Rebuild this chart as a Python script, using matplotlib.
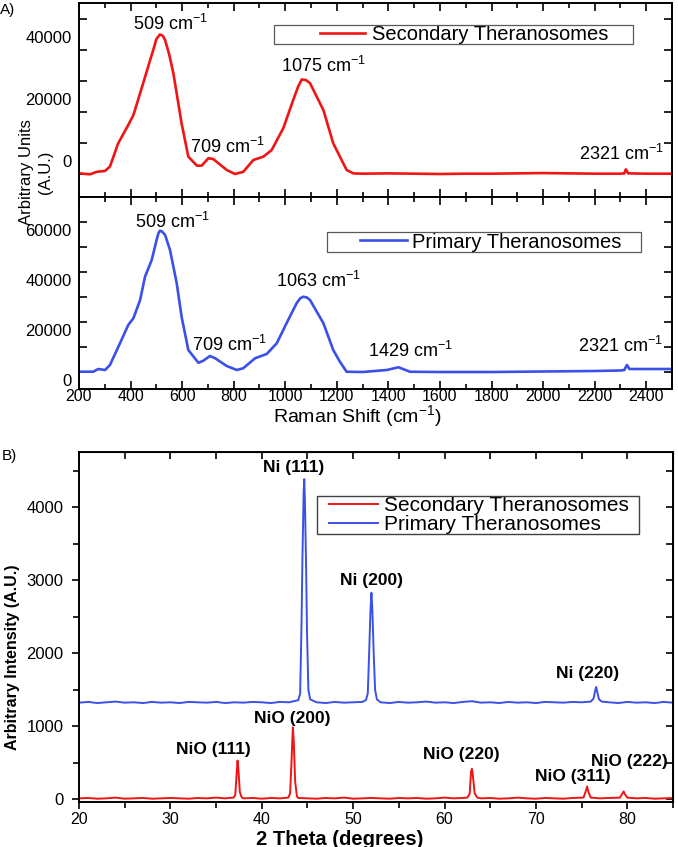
import matplotlib
matplotlib.use('Agg')
import matplotlib.pyplot as plt
import matplotlib.transforms as mtransforms
from matplotlib.ticker import MultipleLocator, FixedLocator
from matplotlib.patches import Rectangle

plt.rcParams['font.family'] = ['Liberation Sans', 'DejaVu Sans']
plt.rcParams['mathtext.fontset'] = 'custom'
plt.rcParams['mathtext.rm'] = 'Liberation Sans'
plt.rcParams['mathtext.default'] = 'regular'

# ---------------- DATA ----------------
# Raman, secondary theranosomes (top)
raman_sec_x = [200, 243, 269, 301, 320, 352, 391, 411, 449, 475, 488, 500, 514, 525, 534,
               550, 566, 598, 624, 657, 676, 702, 721, 773, 805, 837, 876, 915, 947, 992,
               1031, 1050, 1064, 1080, 1096, 1148, 1186, 1212, 1238, 1264, 1300, 1400,
               1500, 1600, 1700, 1800, 1900, 2000, 2100, 2200, 2300, 2315, 2321, 2330,
               2400, 2500]
raman_sec_y = [200, -100, 700, 1000, 2400, 9900, 15800, 19000, 29300, 36500, 40000, 43500,
               45000, 44600, 43200, 38500, 32500, 16300, 5600, 2700, 2700, 5100, 4800, 1300,
               0, 700, 4500, 5600, 7700, 14700, 23900, 28200, 30500, 30300, 29300, 20600,
               9900, 5600, 1300, 200, 100, 200, 100, 0, 100, 100, 200, 300, 200, 100, 100,
               200, 1500, 200, 100, 100]
# Raman, primary theranosomes (bottom)
raman_pri_x = [200, 255, 275, 301, 320, 359, 391, 411, 437, 456, 482, 501, 508, 514, 522,
               534, 553, 579, 598, 624, 663, 682, 708, 728, 773, 812, 837, 883, 928, 967,
               1005, 1044, 1058, 1070, 1084, 1096, 1148, 1186, 1212, 1238, 1300, 1394,
               1439, 1484, 1600, 1800, 2000, 2200, 2300, 2315, 2325, 2335, 2400, 2500]
raman_pri_y = [120, 120, 1200, 800, 2800, 11500, 18800, 21500, 28800, 38100, 44800, 52800,
               55500, 56500, 56200, 54800, 48800, 35500, 22100, 8800, 3700, 4500, 6400,
               5500, 2400, 800, 1500, 5500, 7200, 11500, 19500, 27500, 29500, 30100, 29800,
               28800, 19500, 8800, 4100, 100, 0, 800, 1900, 100, 0, 0, 200, 400, 600, 800,
               2800, 1200, 1200, 1200]

raman_sec_labels = ["509 cm$^{-1}$", "709 cm$^{-1}$", "1075 cm$^{-1}$", "2321 cm$^{-1}$"]
raman_sec_lab_x = [553, 774, 1150, 2306]
raman_sec_lab_y = [48400, 8710, 34840, 6450]
raman_pri_labels = ["509 cm$^{-1}$", "709 cm$^{-1}$", "1063 cm$^{-1}$", "1429 cm$^{-1}$", "2321 cm$^{-1}$"]
raman_pri_lab_x = [561, 782, 1127, 1484, 2302]
raman_pri_lab_y = [60000, 10800, 36400, 8400, 10400]

raman_sec_yticks = [0, 20000, 40000]
raman_pri_yticks = [0, 20000, 40000, 60000]

# XRD, primary theranosomes (blue)
xrd_pri_theta = ([20, 21, 22, 23, 24, 25, 26, 27, 28, 29, 30, 31, 32, 33, 34, 35, 36, 37, 38,
                  39, 40, 41, 42, 43]
                 + [44.0, 44.2, 44.35, 44.45, 44.58, 44.65, 44.72, 44.85, 44.95, 45.1, 45.3]
                 + [46, 47, 48, 49, 50, 51]
                 + [51.4, 51.6, 51.75, 51.9, 52.0, 52.1, 52.25, 52.4, 52.6]
                 + [53, 54, 55, 56, 57, 58, 59, 60, 61, 62, 63, 64, 65, 66, 67, 68, 69, 70,
                    71, 72, 73, 74, 75]
                 + [76.0, 76.3, 76.5, 76.6, 76.75, 76.9, 77.2]
                 + [78, 79, 80, 81, 82, 83, 84, 85])
xrd_pri_int = ([1325, 1335, 1320, 1330, 1340, 1325, 1330, 1320, 1335, 1325, 1330, 1320, 1335,
                1330, 1325, 1335, 1320, 1330, 1325, 1335, 1330, 1320, 1335, 1330]
               + [1360, 1450, 2400, 3300, 4200, 4385, 4100, 3200, 2300, 1500, 1370]
               + [1330, 1320, 1335, 1325, 1330, 1335]
               + [1360, 1450, 2000, 2600, 2830, 2600, 2000, 1500, 1370]
               + [1330, 1320, 1335, 1325, 1330, 1340, 1325, 1330, 1320, 1335, 1345, 1325,
                  1330, 1320, 1335, 1325, 1330, 1320, 1335, 1330, 1325, 1335, 1330]
               + [1340, 1380, 1500, 1540, 1450, 1370, 1340]
               + [1330, 1320, 1335, 1325, 1330, 1320, 1335, 1325])
# XRD, secondary theranosomes (red)
xrd_sec_theta = ([20, 21, 22, 23, 24, 25, 26, 27, 28, 29, 30, 31, 32, 33, 34, 35, 36]
                 + [36.9, 37.1, 37.25, 37.35, 37.45, 37.6, 37.8]
                 + [38, 39, 40, 41, 42]
                 + [42.9, 43.1, 43.25, 43.4, 43.5, 43.65, 43.85]
                 + [44, 45, 46, 47, 48, 49, 50, 51, 52, 53, 54, 55, 56, 57, 58, 59, 60, 61, 62]
                 + [62.5, 62.75, 62.9, 63.0, 63.1, 63.3, 63.6]
                 + [64, 65, 66, 67, 68, 69, 70, 71, 72, 73, 74]
                 + [75.2, 75.45, 75.6, 75.75, 76.0]
                 + [77, 78]
                 + [79.2, 79.45, 79.6, 79.75, 80.0]
                 + [81, 82, 83, 84, 85])
xrd_sec_int = ([15, 20, 10, 15, 25, 10, 15, 20, 10, 15, 20, 15, 10, 20, 15, 25, 15]
               + [25, 60, 350, 532, 400, 100, 30]
               + [15, 20, 10, 20, 15]
               + [25, 80, 500, 988, 800, 250, 40]
               + [20, 15, 10, 20, 15, 25, 10, 15, 20, 15, 10, 20, 15, 20, 10, 15, 25, 15, 20]
               + [25, 80, 380, 419, 330, 80, 25]
               + [15, 20, 10, 15, 25, 15, 10, 20, 15, 10, 20]
               + [25, 110, 178, 100, 25]
               + [15, 20]
               + [25, 80, 110, 70, 25]
               + [15, 20, 10, 15, 20])

xrd_labels = ["Ni (111)", "Ni (200)", "Ni (220)", "NiO (200)", "NiO (111)", "NiO (220)",
              "NiO (311)", "NiO (222)"]
xrd_lab_x = [43.53, 52.06, 75.70, 43.31, 34.66, 61.80, 74.06, 80.19]
xrd_lab_y = [4539, 2997, 1729, 1115, 678, 610, 310, 515]

series_names = ["Secondary Theranosomes", "Primary Theranosomes"]
RED = '#f01414'
BLUE = '#3a50e6'

# ---------------- FIGURE ----------------
W, H = 678, 847
fig = plt.figure(figsize=(W / 100, H / 100), dpi=100)


def ax_px(l, t, r, b):
    return fig.add_axes([l / W, 1 - b / H, (r - l) / W, (b - t) / H])


axA1 = ax_px(79, 3, 672, 197)
axA2 = ax_px(79, 197, 672, 389)
axB = ax_px(79, 452, 673, 802)

for ax in (axA1, axA2, axB):
    for s in ax.spines.values():
        s.set_linewidth(1.4)

# ---- Raman panels ----
lA1, = axA1.plot(raman_sec_x, raman_sec_y, color=RED, lw=1.9)
lA2, = axA2.plot(raman_pri_x, raman_pri_y, color=BLUE, lw=1.9)
axA1.set_ylim(-7420, 55160)
axA2.set_ylim(-6800, 70000)

for ax, ticks, dy in ((axA1, raman_sec_yticks, 0.11), (axA2, raman_pri_yticks, -0.10)):
    ax.set_xlim(200, 2500)
    ax.xaxis.set_major_locator(MultipleLocator(200))
    ax.xaxis.set_minor_locator(MultipleLocator(100))
    ax.yaxis.set_major_locator(FixedLocator(ticks))
    ax.yaxis.set_minor_locator(MultipleLocator(10000))
    ax.tick_params(which='both', direction='in', top=True, right=True, width=1.2)
    ax.tick_params(which='major', length=6)
    ax.tick_params(which='minor', length=3.5)
    ax.tick_params(axis='y', which='minor', length=6)
    ax.set_yticklabels([])
    trans = mtransforms.offset_copy(ax.get_yaxis_transform(), fig=fig, x=-0.075, y=dy,
                                    units='inches')
    for v in ticks:
        ax.text(0, v, str(v), transform=trans, ha='right', va='center', fontsize=12)

axA1.set_xticklabels([])
axA2.tick_params(axis='x', labelsize=11.5, pad=0.3)
axA2.set_xlabel("Raman Shift (cm$^{-1}$)", fontsize=14, va='center')
axA2.xaxis.set_label_coords((357 - 79) / 593, (389 - 416) / 192)

for s, x, y in zip(raman_sec_labels, raman_sec_lab_x, raman_sec_lab_y):
    axA1.text(x, y, s, ha='center', va='center', fontsize=13)
for s, x, y in zip(raman_pri_labels, raman_pri_lab_x, raman_pri_lab_y):
    axA2.text(x, y, s, ha='center', va='center', fontsize=13)

fig.text(36 / W, 1 - 172 / H, "Arbitrary Units\n(A.U.)", rotation=90, ha='center',
         va='center', multialignment='center', fontsize=12, linespacing=1.35)
fig.text(8 / W, 1 - 10 / H, "A)", ha='center', va='center', fontsize=11)

# Raman legends
fig.patches.append(Rectangle((274 / W, 1 - 44 / H), (633 - 274) / W, 19 / H,
                             transform=fig.transFigure, fill=False, edgecolor='0.35', lw=0.9))
axA1.legend([lA1], [series_names[0]], loc='center left', bbox_to_anchor=(320 / W, 1 - 35 / H),
            bbox_transform=fig.transFigure, frameon=False, borderpad=0, borderaxespad=0,
            handlelength=2.23, handletextpad=0.35, fontsize=14.5)
fig.patches.append(Rectangle((327 / W, 1 - 252 / H), (641 - 327) / W, 20 / H,
                             transform=fig.transFigure, fill=False, edgecolor='0.35', lw=0.9))
axA2.legend([lA2], [series_names[1]], loc='center left', bbox_to_anchor=(360 / W, 1 - 242 / H),
            bbox_transform=fig.transFigure, frameon=False, borderpad=0, borderaxespad=0,
            handlelength=2.33, handletextpad=0.25, fontsize=14.5)

# ---- XRD panel ----
lBs, = axB.plot(xrd_sec_theta, xrd_sec_int, color=RED, lw=1.4)
lBp, = axB.plot(xrd_pri_theta, xrd_pri_int, color=BLUE, lw=1.4)
axB.set_xlim(20, 85)
axB.set_ylim(-35, 4757)
axB.xaxis.set_major_locator(MultipleLocator(10))
axB.xaxis.set_minor_locator(MultipleLocator(5))
axB.yaxis.set_major_locator(MultipleLocator(1000))
axB.yaxis.set_minor_locator(MultipleLocator(500))
axB.tick_params(which='both', direction='out', width=1.2)
axB.tick_params(which='major', length=5)
axB.tick_params(which='minor', length=4)
axB.tick_params(axis='y', labelsize=12, pad=6)
axB.tick_params(axis='x', labelsize=11.5, pad=2.5)
# inward ticks on top and right
axB_top = axB.secondary_xaxis('top')
axB_top.xaxis.set_major_locator(MultipleLocator(5))
axB_top.tick_params(direction='in', length=5, width=1.2, labeltop=False)
axB_right = axB.secondary_yaxis('right')
axB_right.yaxis.set_major_locator(MultipleLocator(500))
axB_right.tick_params(direction='in', length=5, width=1.2, labelright=False)

for s, x, y in zip(xrd_labels, xrd_lab_x, xrd_lab_y):
    axB.text(x, y, s, ha='center', va='center', fontsize=12.5, fontweight='bold')

axB.set_xlabel("2 Theta (degrees)", fontsize=14.5, fontweight='bold', va='center')
axB.xaxis.set_label_coords((340 - 79) / 594, (802 - 839) / 350)
fig.text(13 / W, 1 - 657 / H, "Arbitrary Intensity (A.U.)", rotation=90, ha='center',
         va='center', fontsize=11.5, fontweight='bold')
fig.text(9 / W, 1 - 456 / H, "B)", ha='center', va='center', fontsize=11)

fig.patches.append(Rectangle((317 / W, 1 - 534 / H), (639 - 317) / W, 38 / H,
                             transform=fig.transFigure, fill=False, edgecolor='0.25', lw=1.0))
axB.legend([lBs, lBp], series_names, loc='center left', bbox_to_anchor=(329 / W, 1 - 515 / H),
           bbox_transform=fig.transFigure, frameon=False, borderpad=0, borderaxespad=0,
           handlelength=2.35, handletextpad=0.29, labelspacing=0.0, fontsize=15)

fig.savefig('out.png', dpi=100)
